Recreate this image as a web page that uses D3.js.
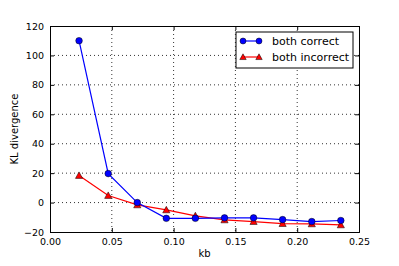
<!DOCTYPE html>
<html>
<head>
<meta charset="utf-8">
<script src="https://cdn.jsdelivr.net/npm/d3@7"></script>
<style>
  body { margin: 0; background: #fff; }
  text { font-family: "DejaVu Sans", sans-serif; }
</style>
</head>
<body>
<svg id="chart"></svg>
<script>
// data
const kb = [0.0235, 0.0471, 0.0706, 0.0941, 0.1176, 0.1412, 0.1647, 0.1882, 0.2118, 0.2353];
const bothCorrect = [110, 19.7, 0, -10.7, -10.7, -10.4, -10.4, -11.6, -12.9, -12.2];
const bothIncorrect = [18.4, 4.8, -1.6, -5, -9, -11.8, -12.9, -14.3, -14.5, -15.2];
const xTicks = [0, 0.05, 0.10, 0.15, 0.20, 0.25];
const yTicks = [-20, 0, 20, 40, 60, 80, 100, 120];

const W = 399, H = 266;
const m = { left: 50, right: 40, top: 26, bottom: 34 };
const w = W - m.left - m.right;
const h = H - m.top - m.bottom;

const svg = d3.select('#chart').attr('width', W).attr('height', H);
const g = svg.append('g').attr('transform', `translate(${m.left},${m.top})`);

const x = d3.scaleLinear().domain([0, 0.25]).range([0, w]);
const y = d3.scaleLinear().domain([-20, 120]).range([h, 0]);

// grid
g.append('g').selectAll('line').data(xTicks.slice(1, -1)).join('line')
  .attr('x1', d => x(d)).attr('x2', d => x(d)).attr('y1', 0).attr('y2', h)
  .attr('stroke', '#000').attr('stroke-width', 0.8).attr('stroke-dasharray', '1,3');
g.append('g').selectAll('line').data(yTicks.slice(1, -1)).join('line')
  .attr('y1', d => y(d)).attr('y2', d => y(d)).attr('x1', 0).attr('x2', w)
  .attr('stroke', '#000').attr('stroke-width', 0.8).attr('stroke-dasharray', '1,3');

// axes, ticks point inwards like old matplotlib
const fmtX = d3.format('.2f');
g.append('g').attr('transform', `translate(0,${h})`)
  .call(d3.axisBottom(x).tickValues(xTicks).tickFormat(fmtX).tickSize(-4).tickPadding(6));
g.append('g')
  .call(d3.axisLeft(y).tickValues(yTicks).tickFormat(d => d < 0 ? '\u2212' + Math.abs(d) : d).tickSize(-4).tickPadding(6));
g.append('g').call(d3.axisTop(x).tickValues(xTicks).tickFormat('').tickSize(-4));
g.append('g').attr('transform', `translate(${w},0)`)
  .call(d3.axisRight(y).tickValues(yTicks).tickFormat('').tickSize(-4));
g.selectAll('.domain').attr('stroke', '#000').attr('stroke-width', 1);
g.selectAll('.tick text').attr('font-size', 9.5).attr('fill', '#000');

// labels
svg.append('text').attr('x', m.left + w / 2).attr('y', 257)
  .attr('text-anchor', 'middle').attr('font-size', 10).text('kb');
svg.append('text').attr('transform', `translate(18,${m.top + h / 2}) rotate(-90)`)
  .attr('text-anchor', 'middle').attr('font-size', 10).text('KL divergence');

const line = d3.line().x((d, i) => x(kb[i])).y(d => y(d));

function tri(s) {
  return `M0,${-s}L${s},${s * 0.8}L${-s},${s * 0.8}Z`;
}

// red series
g.append('path').datum(bothIncorrect).attr('d', line)
  .attr('fill', 'none').attr('stroke', 'red').attr('stroke-width', 1.2);
g.selectAll('.tri').data(bothIncorrect).join('path').attr('class', 'tri')
  .attr('transform', (d, i) => `translate(${x(kb[i])},${y(d)})`)
  .attr('d', tri(3.6)).attr('fill', 'red').attr('stroke', '#000').attr('stroke-width', 0.5);

// blue series
g.append('path').datum(bothCorrect).attr('d', line)
  .attr('fill', 'none').attr('stroke', 'blue').attr('stroke-width', 1.2);
g.selectAll('.dot').data(bothCorrect).join('circle').attr('class', 'dot')
  .attr('cx', (d, i) => x(kb[i])).attr('cy', d => y(d)).attr('r', 3.3)
  .attr('fill', 'blue').attr('stroke', '#000').attr('stroke-width', 0.5);

// legend
const lg = svg.append('g').attr('transform', 'translate(236,32)');
lg.append('rect').attr('width', 117).attr('height', 36)
  .attr('fill', '#fff').attr('stroke', '#000').attr('stroke-width', 1);
const items = [
  { name: 'both correct', color: 'blue', shape: 'circle' },
  { name: 'both incorrect', color: 'red', shape: 'tri' }
];
items.forEach((it, i) => {
  const yy = 9 + i * 16;
  const row = lg.append('g').attr('transform', `translate(0,${yy})`);
  row.append('line').attr('x1', 7).attr('x2', 23).attr('stroke', it.color).attr('stroke-width', 1.2);
  [7, 23].forEach(cx => {
    if (it.shape === 'circle') {
      row.append('circle').attr('cx', cx).attr('r', 3).attr('fill', it.color)
        .attr('stroke', '#000').attr('stroke-width', 0.5);
    } else {
      row.append('path').attr('transform', `translate(${cx},0)`).attr('d', tri(3.2))
        .attr('fill', it.color).attr('stroke', '#000').attr('stroke-width', 0.5);
    }
  });
  row.append('text').attr('x', 36).attr('y', 4).attr('font-size', 11).text(it.name);
});
</script>
</body>
</html>
